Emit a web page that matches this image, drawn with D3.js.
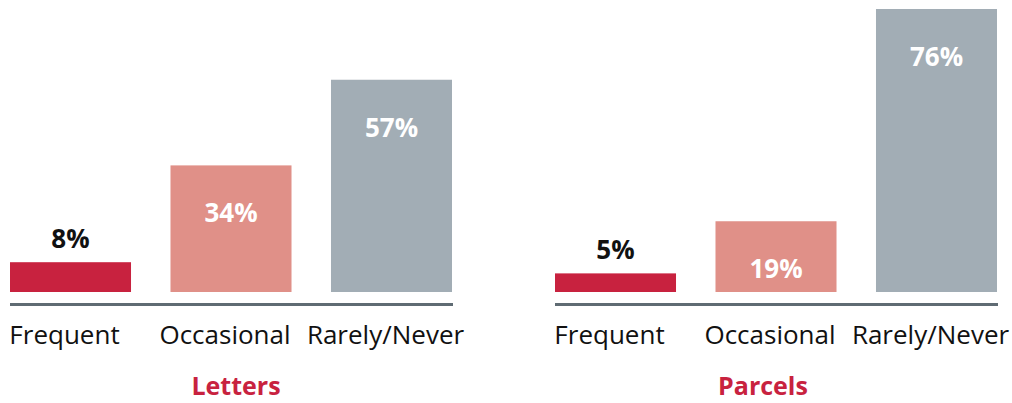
<!DOCTYPE html>
<html>
<head>
<meta charset="utf-8">
<script src="https://cdn.jsdelivr.net/npm/d3@7"></script>
<style>
  body { margin: 0; background: #fff; }
  text { font-family: "Open Sans", sans-serif; }
</style>
</head>
<body>
<svg id="chart" width="1012" height="403"></svg>
<script>
// data
const categories = ["Frequent", "Occasional", "Rarely/Never"]
const panels = ["Letters", "Parcels"]
const letters = [8, 34, 57]
const parcels = [5, 19, 76]
const colors = ["#c8223f", "#e09088", "#a2adb5"]

const svg = d3.select("#chart")

// same vertical scale for both panels
const y = d3.scaleLinear()
    .domain([0, 76])
    .range([292, 9])

const layout = [
    { name: panels[0], values: letters, range: [10, 452], titleX: 236 },
    { name: panels[1], values: parcels, range: [555, 997], titleX: 763 }
]

layout.forEach(p => {
    const x = d3.scaleBand()
        .domain(categories)
        .range(p.range)
        .paddingInner(0.246)
        .paddingOuter(0)

    const g = svg.append("g")
    const rows = categories.map((c, i) => ({ cat: c, val: p.values[i], i: i }))

    // bars
    g.selectAll("rect")
        .data(rows)
        .enter()
        .append("rect")
        .attr("x", d => x(d.cat))
        .attr("y", d => y(d.val))
        .attr("width", x.bandwidth())
        .attr("height", d => y(0) - y(d.val))
        .style("fill", d => colors[d.i])

    // value labels: small bars get theirs above, the rest inside
    g.selectAll(".val")
        .data(rows)
        .enter()
        .append("text")
        .attr("class", "val")
        .attr("x", d => x(d.cat) + x.bandwidth() / 2)
        .attr("y", d => d.val < 10 ? y(d.val) - 14 : y(d.val) + 57)
        .attr("text-anchor", "middle")
        .style("font-size", "26px")
        .style("font-weight", "bold")
        .style("fill", d => d.val < 10 ? "#111" : "#fff")
        .text(d => d.val + "%")

    // base line
    g.append("line")
        .attr("x1", p.range[0])
        .attr("x2", p.range[1] + 1)
        .attr("y1", 304.5)
        .attr("y2", 304.5)
        .style("stroke", "#5f6b73")
        .style("stroke-width", 3)

    // category labels
    g.selectAll(".cat")
        .data(rows)
        .enter()
        .append("text")
        .attr("class", "cat")
        .attr("x", d => x(d.cat) + x.bandwidth() / 2 - 6)
        .attr("y", 344)
        .attr("text-anchor", "middle")
        .style("font-size", "26px")
        .style("fill", "#111")
        .text(d => d.cat)

    // panel title
    g.append("text")
        .attr("x", p.titleX)
        .attr("y", 395)
        .attr("text-anchor", "middle")
        .style("font-size", "25px")
        .style("font-weight", "bold")
        .style("fill", "#c8223f")
        .text(p.name)
})
</script>
</body>
</html>
